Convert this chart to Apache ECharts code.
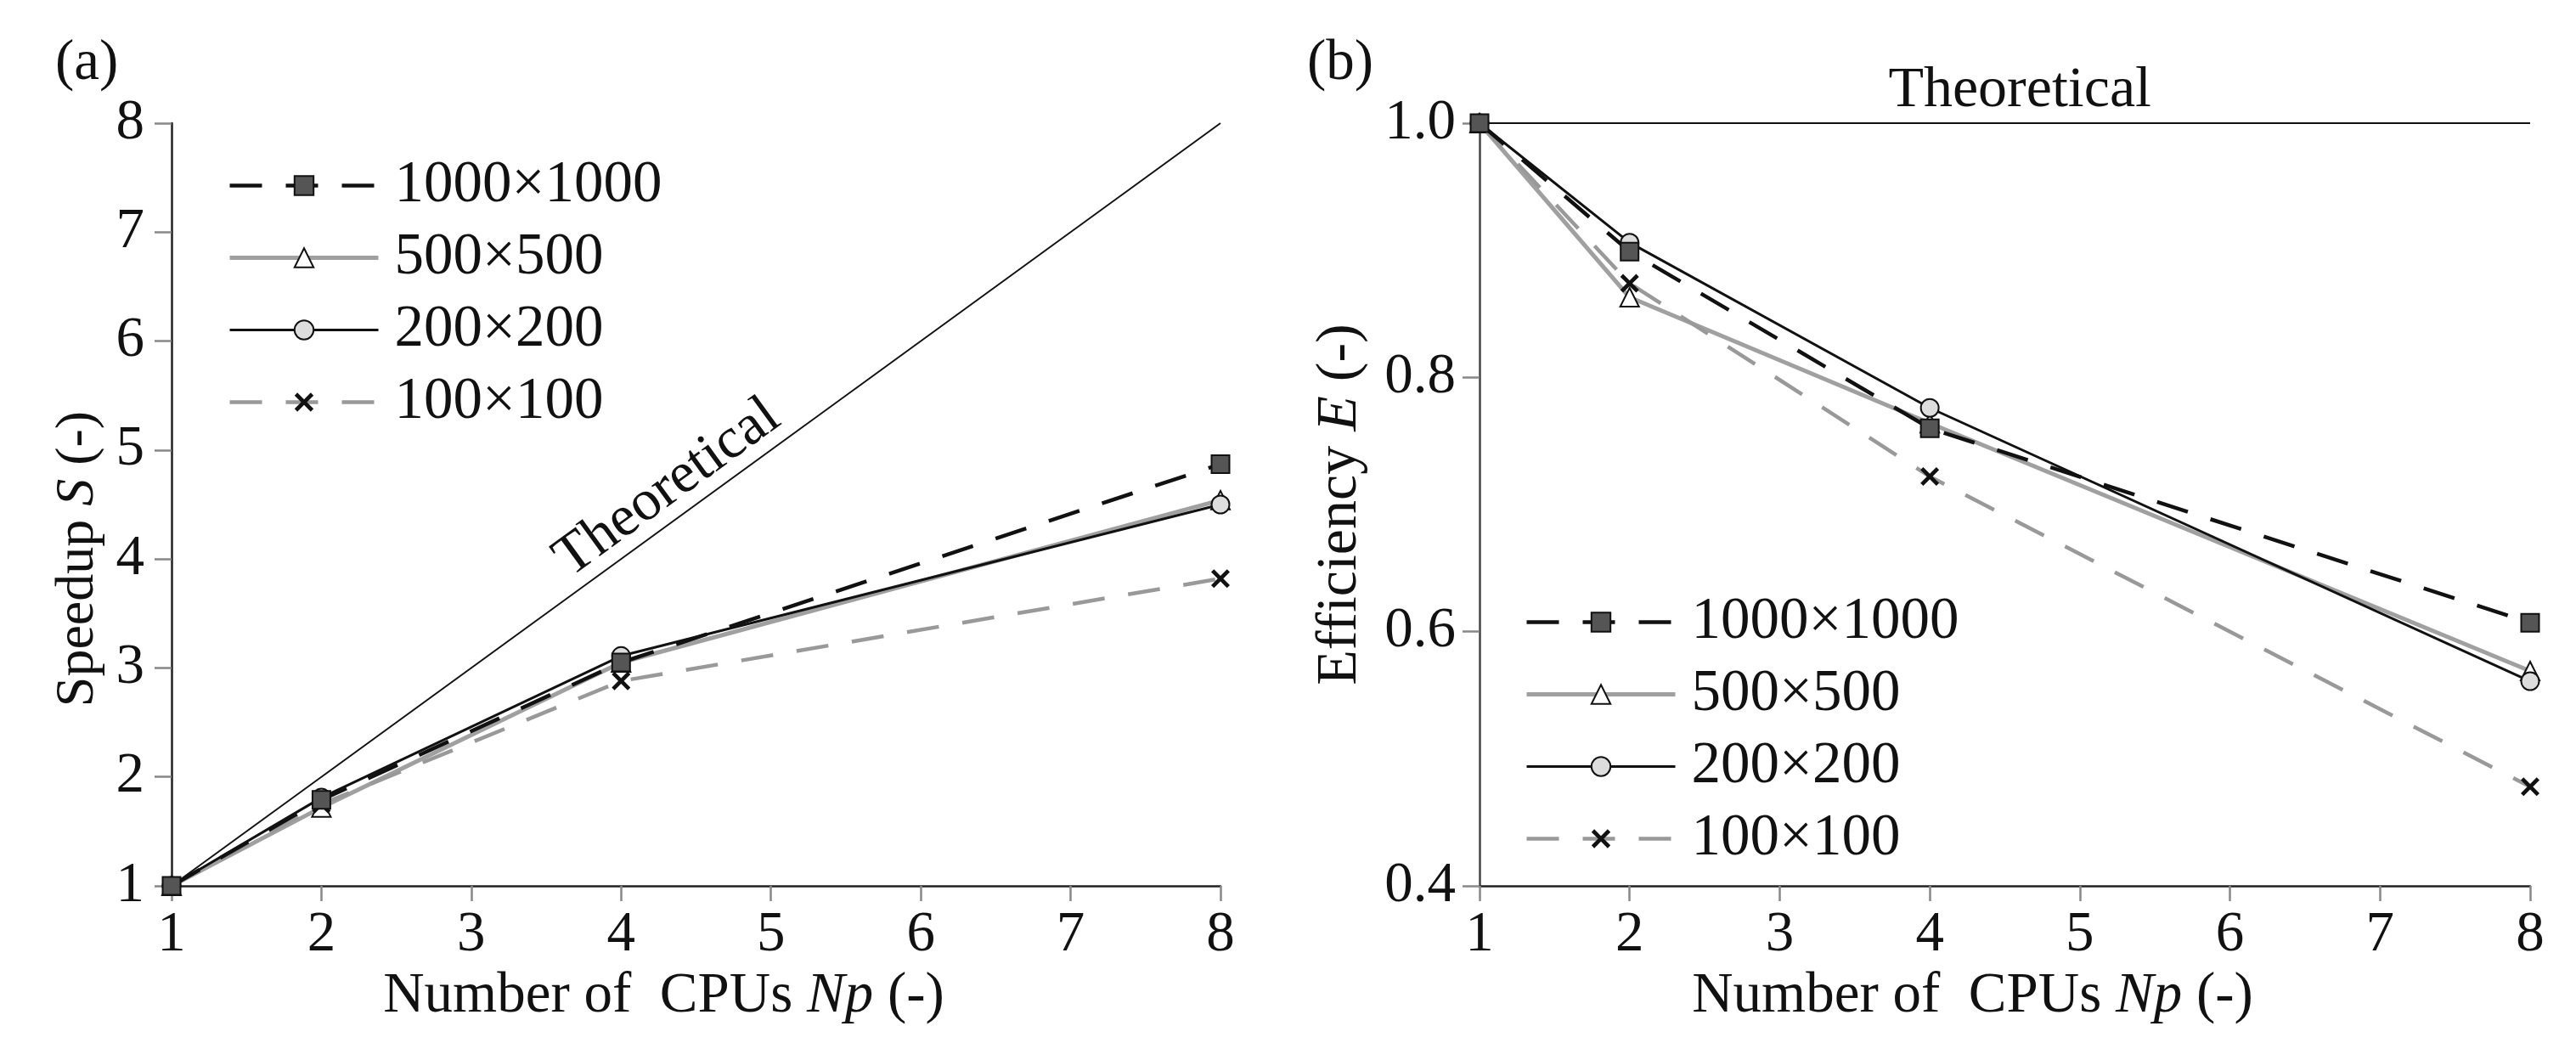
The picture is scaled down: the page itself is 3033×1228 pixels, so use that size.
<!DOCTYPE html>
<html>
<head>
<meta charset="utf-8">
<title>Speedup and efficiency</title>
<script src="https://cdn.jsdelivr.net/npm/echarts@6/dist/echarts.min.js"></script>
<style>
  html, body { margin: 0; padding: 0; background: #fff; }
  #chart { width: 3033px; height: 1228px; }
</style>
</head>
<body>
<div id="chart"></div>
<script>
// values
const cpus = [1, 2, 4, 8];
const meshNames = ['1000×1000', '500×500', '200×200', '100×100'];

const speedup1000 = [1, 1.79, 3.05, 4.87];
const speedup500 = [1, 1.72, 3.05, 4.54];
const speedup200 = [1, 1.81, 3.11, 4.50];
const speedup100 = [1, 1.75, 2.88, 3.82];

const eff1000 = [1, 0.899, 0.760, 0.607];
const eff500 = [1, 0.863, 0.764, 0.569];
const eff200 = [1, 0.906, 0.776, 0.561];
const eff100 = [1, 0.874, 0.722, 0.478];

const idealCpus = [1, 8];
const idealSpeedup = [1, 8];
const idealEff = [1, 1];

(function () {
    const FONT = '"Liberation Serif", "Times New Roman", serif';
    const X_MARK = 'path://M0,1.5L1.5,0L5,3.5L8.5,0L10,1.5L6.5,5L10,8.5L8.5,10L5,6.5L1.5,10L0,8.5L3.5,5Z';

    const styles = [
        { symbol: 'rect', size: 21, fill: '#555', line: '#111', width: 4.5, type: [38, 28] },
        { symbol: 'triangle', size: 22, fill: '#fff', line: '#a0a0a0', width: 5, type: 'solid' },
        { symbol: 'circle', size: 21, fill: '#ddd', line: '#111', width: 3, type: 'solid' },
        { symbol: X_MARK, size: 22, fill: '#111', line: '#999', width: 4.5, type: [38, 28] }
    ];

    function pairs(xs, ys) {
        return xs.map(function (x, i) { return [x, ys[i]]; });
    }

    function itemStyleOf(idx) {
        return {
            color: styles[idx].fill,
            borderColor: '#111',
            borderWidth: idx === 3 ? 0 : 2
        };
    }

    function lineStyleOf(idx) {
        const s = styles[idx];
        return { color: s.line, width: s.width, type: s.type };
    }

    function meshSeries(idx, values, panel) {
        const s = styles[idx];
        return {
            name: meshNames[idx],
            type: 'line',
            xAxisIndex: panel,
            yAxisIndex: panel,
            data: pairs(cpus, values),
            symbol: s.symbol,
            symbolSize: s.size,
            showAllSymbol: true,
            lineStyle: lineStyleOf(idx),
            itemStyle: itemStyleOf(idx),
            emphasis: { disabled: true },
            z: idx === 1 ? 2 : 3
        };
    }

    function richName(size) {
        return {
            t: { fontFamily: FONT, fontSize: size, color: '#111' },
            i: { fontFamily: FONT, fontSize: size, fontStyle: 'italic', color: '#111' }
        };
    }

    function xAxis(panel) {
        return {
            type: 'value',
            gridIndex: panel,
            min: 1,
            max: 8,
            interval: 1,
            name: '{t|Number of  CPUs }{i|Np}{t| (-)}',
            nameLocation: 'middle',
            nameGap: 80,
            nameTextStyle: { padding: [0, 76, 0, 0], rich: richName(67) },
            axisLine: { lineStyle: { color: '#222', width: 2.5 } },
            axisTick: { lineStyle: { color: '#888', width: 2.5 }, length: 18 },
            axisLabel: { fontFamily: FONT, fontSize: 67, color: '#111', margin: 25 },
            splitLine: { show: false }
        };
    }

    function legendData() {
        return meshNames.map(function (name, idx) {
            return { name: name, lineStyle: lineStyleOf(idx), itemStyle: itemStyleOf(idx) };
        });
    }

    function legend(left, top) {
        return {
            orient: 'vertical',
            left: left,
            top: top,
            data: legendData(),
            itemWidth: 175,
            itemHeight: 28,
            itemGap: 16,
            selectedMode: false,
            textStyle: {
                fontFamily: FONT,
                fontSize: 69,
                lineHeight: 68,
                color: '#111',
                padding: [0, 0, 0, 14]
            }
        };
    }

    function titleStyle() {
        return { fontFamily: FONT, fontSize: 67, fontWeight: 'normal', color: '#111' };
    }

    const option = {
        backgroundColor: '#fff',
        animation: false,
        title: [
            { text: '(a)', left: 60, top: 37, textStyle: titleStyle() },
            { text: '(b)', left: 1534, top: 37, textStyle: titleStyle() }
        ],
        grid: [
            { left: 202, top: 145, width: 1235, height: 898 },
            { left: 1742, top: 145, width: 1237, height: 898 }
        ],
        legend: [legend(263, 179), legend(1790, 693)],
        xAxis: [xAxis(0), xAxis(1)],
        yAxis: [
            {
                type: 'value',
                gridIndex: 0,
                min: 1,
                max: 8,
                interval: 1,
                // trailing blanks move the centred name down, as in the figure
                name: '{t|Speedup }{i|S}{t| (-)        }',
                nameLocation: 'middle',
                nameGap: 78,
                nameTextStyle: { rich: richName(64) },
                axisLine: { show: true, lineStyle: { color: '#222', width: 2.5 } },
                axisTick: { show: true, lineStyle: { color: '#888', width: 2.5 }, length: 20 },
                axisLabel: { fontFamily: FONT, fontSize: 67, color: '#111', margin: 32 },
                splitLine: { show: false }
            },
            {
                type: 'value',
                gridIndex: 1,
                min: 0.4,
                max: 1.0,
                interval: 0.2,
                name: '{t|Efficiency }{i|E}{t| (-)}',
                nameLocation: 'middle',
                nameGap: 130,
                nameTextStyle: { rich: richName(68) },
                axisLine: { show: true, lineStyle: { color: '#444', width: 2.5 } },
                axisTick: { show: true, lineStyle: { color: '#888', width: 2.5 }, length: 20 },
                axisLabel: {
                    fontFamily: FONT, fontSize: 67, color: '#111', margin: 28,
                    formatter: function (v) { return v.toFixed(1); }
                },
                splitLine: { show: false }
            }
        ],
        series: [
            {
                name: 'Theoretical',
                type: 'line',
                xAxisIndex: 0,
                yAxisIndex: 0,
                data: pairs(idealCpus, idealSpeedup),
                symbol: 'none',
                lineStyle: { color: '#111', width: 2 },
                emphasis: { disabled: true },
                markPoint: {
                    symbol: 'circle',
                    symbolSize: 0,
                    silent: true,
                    data: [{ coord: [4.31, 4.65] }],
                    label: {
                        show: true,
                        formatter: 'Theoretical',
                        rotate: 36,
                        fontFamily: FONT,
                        fontSize: 68,
                        color: '#111'
                    }
                },
                z: 1
            },
            {
                name: 'Theoretical',
                type: 'line',
                xAxisIndex: 1,
                yAxisIndex: 1,
                data: pairs(idealCpus, idealEff),
                symbol: 'none',
                lineStyle: { color: '#111', width: 2 },
                emphasis: { disabled: true },
                markPoint: {
                    symbol: 'circle',
                    symbolSize: 0,
                    silent: true,
                    data: [{ coord: [4.6, 1.0] }],
                    label: {
                        show: true,
                        position: 'top',
                        distance: 4,
                        formatter: 'Theoretical',
                        fontFamily: FONT,
                        fontSize: 68,
                        color: '#111'
                    }
                },
                z: 1
            },
            meshSeries(1, speedup500, 0),
            meshSeries(3, speedup100, 0),
            meshSeries(2, speedup200, 0),
            meshSeries(0, speedup1000, 0),
            meshSeries(1, eff500, 1),
            meshSeries(3, eff100, 1),
            meshSeries(2, eff200, 1),
            meshSeries(0, eff1000, 1)
        ]
    };

    const chart = echarts.init(document.getElementById('chart'));
    chart.setOption(option);
})();
</script>
</body>
</html>
